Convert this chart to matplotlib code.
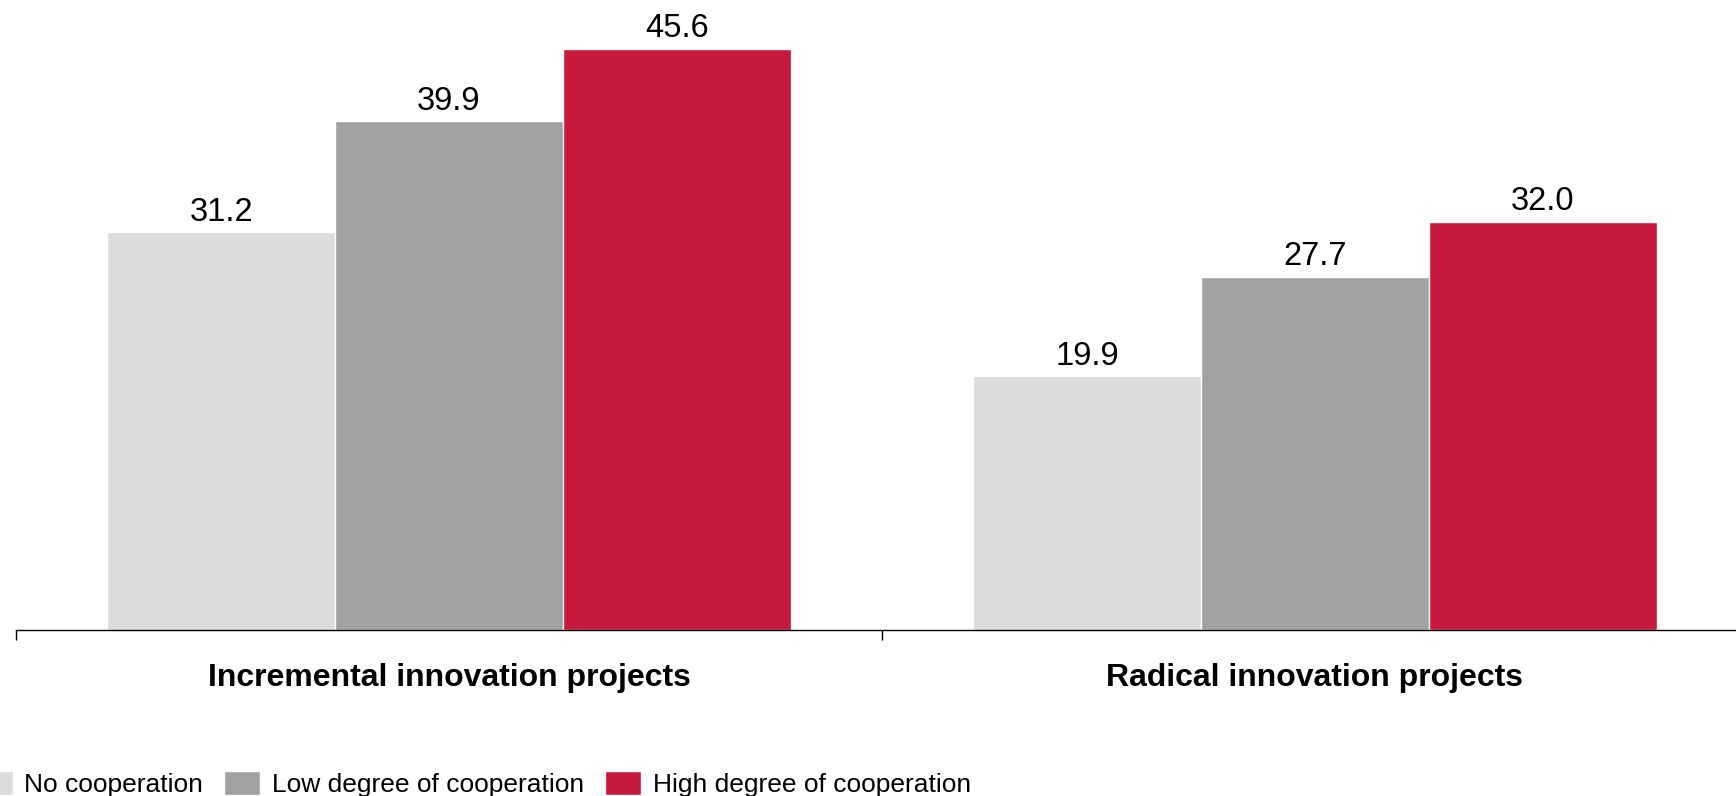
import matplotlib
matplotlib.use("Agg")
import matplotlib.pyplot as plt
import numpy as np

plt.rcParams["font.family"] = ["Liberation Sans", "DejaVu Sans"]

categories = ["Incremental innovation projects", "Radical innovation projects"]
series_names = ["No cooperation", "Low degree of cooperation", "High degree of cooperation"]
no_coop = [31.2, 19.9]
low_coop = [39.9, 27.7]
high_coop = [45.6, 32.0]
series_values = [no_coop, low_coop, high_coop]
colors = ["#DCDCDC", "#A1A1A1", "#C8193F"]

W, H = 1736, 796
fig = plt.figure(figsize=(W / 100, H / 100), dpi=100)

px_per_unit = 12.746
ymax = 48
ax = fig.add_axes([16 / W, 166 / H, 1732 / W, ymax * px_per_unit / H])

x = np.arange(len(categories))
bw = 0.263
for i, (vals, col, name) in enumerate(zip(series_values, colors, series_names)):
    bars = ax.bar(x + (i - 1) * bw, vals, width=bw, color=col, edgecolor="white",
                  linewidth=1.0, label=name)
    for rect, v in zip(bars, vals):
        ax.annotate(f"{v:.1f}", (rect.get_x() + rect.get_width() / 2, v),
                    xytext=(0, 8.4), textcoords="offset points",
                    ha="center", va="baseline", fontsize=23.5, color="black")

ax.set_xlim(-0.5, 1.5)
ax.set_ylim(0, ymax)

for s in ["top", "right", "left"]:
    ax.spines[s].set_visible(False)
ax.spines["bottom"].set_color("black")
ax.spines["bottom"].set_linewidth(1.0)
ax.set_yticks([])

ax.set_xticks([-0.5, 0.5, 1.5])
ax.set_xticklabels([])
ax.tick_params(axis="x", which="major", length=7, width=1.0, color="black", direction="out")
ax.set_xticks(x, minor=True)
ax.set_xticklabels(categories, minor=True, fontsize=23, fontweight="bold")
ax.tick_params(axis="x", which="minor", length=0, pad=24)

handles, labels = ax.get_legend_handles_labels()
fig.legend(handles, labels, loc="upper left",
           bbox_to_anchor=(-23 / W, (H - 771) / H), ncol=3, frameon=False,
           fontsize=19, handlelength=1.36, handleheight=1.0,
           handletextpad=0.44, columnspacing=0.80, borderpad=0, borderaxespad=0)

fig.savefig("out.png", dpi=100)
